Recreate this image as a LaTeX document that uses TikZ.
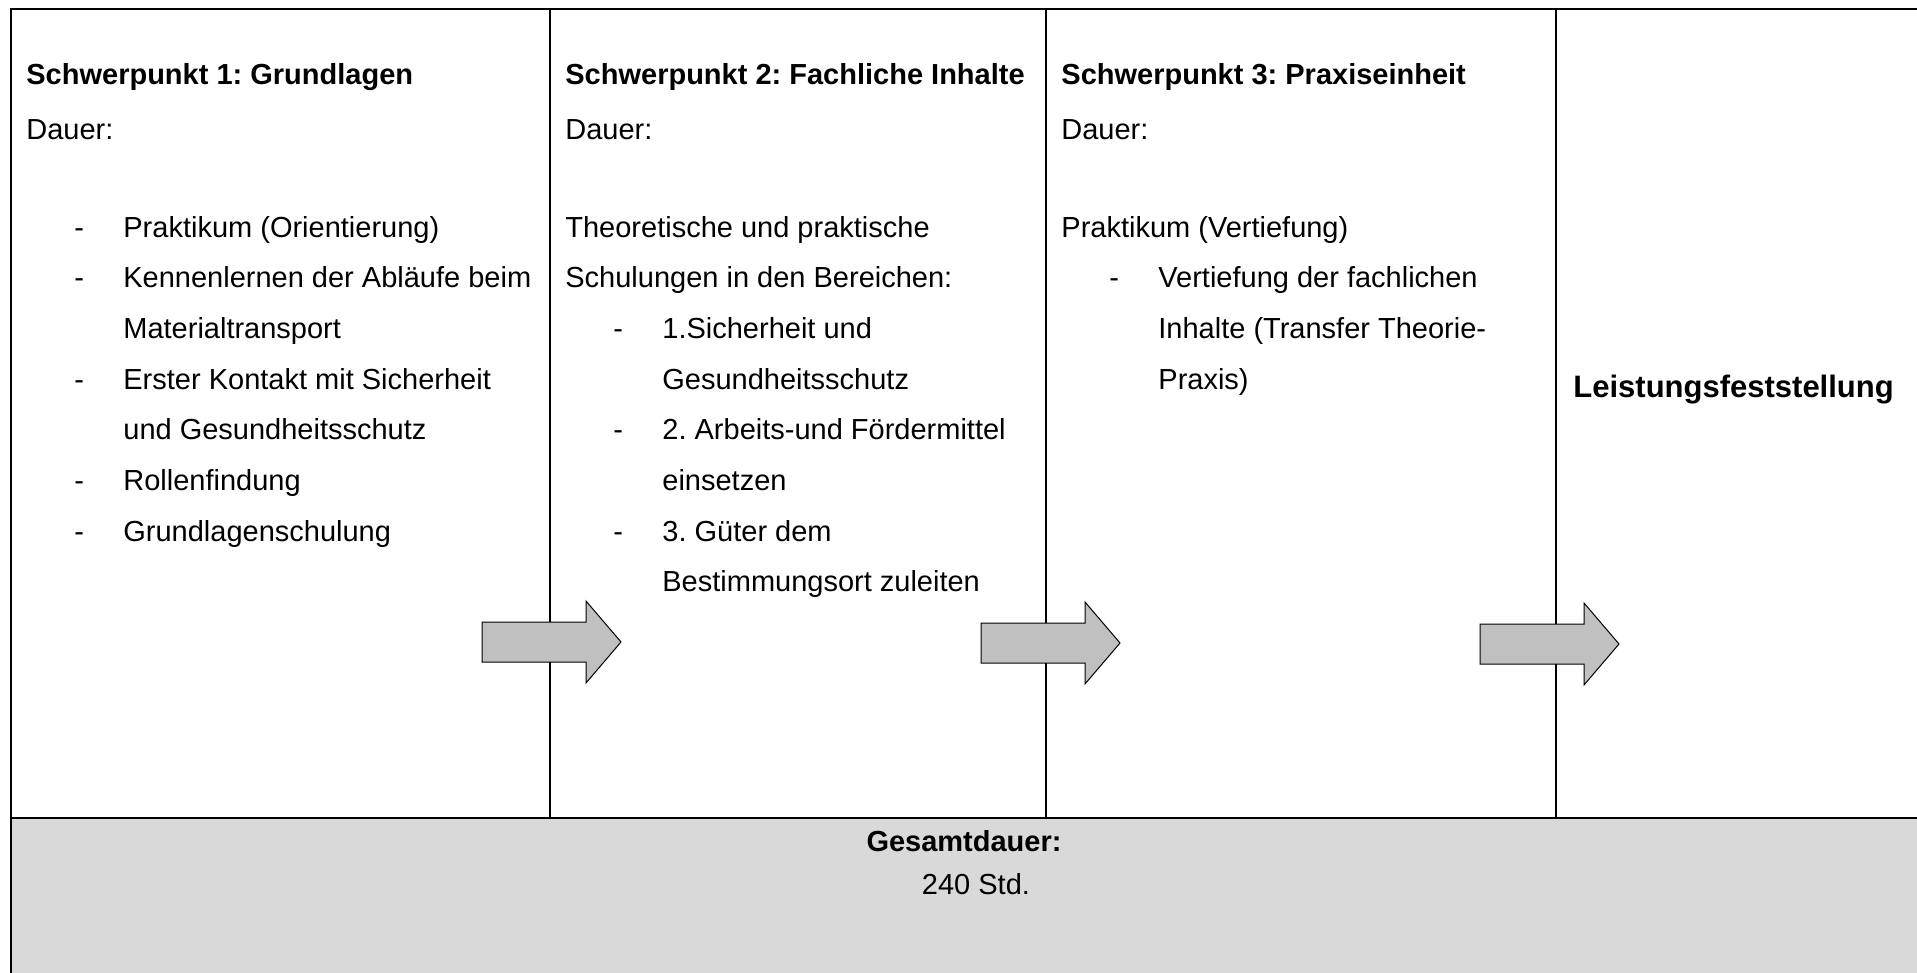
\documentclass[tikz,border=0pt]{standalone}
\usepackage{fontspec}
\usepackage{xcolor}
\usepackage{tikz}
\setmainfont{Liberation Sans}
\frenchspacing
\definecolor{arrowgray}{HTML}{C0C0C0}
\definecolor{sumgray}{HTML}{D9D9D9}
\newcommand{\dashitem}[1]{\hspace*{24pt}\makebox[24.5pt][l]{-}#1}
\newcommand{\hangline}[1]{\hspace*{48.5pt}#1}

\begin{document}
\begin{tikzpicture}[x=0.5pt, y=-0.5pt,
    celltext/.style={anchor=base west, inner sep=0pt, font=\fontsize{14.5}{25.35}\selectfont},
    rule/.style={line width=0.8pt},
    frame/.style={line width=1pt},
    blockarrow/.style={draw, fill=arrowgray, line width=0.5pt, line join=miter}]
\useasboundingbox (0,0) rectangle (1917,973);
\coordinate (topleft) at (11,9);
\coordinate (topright) at (1917,9);
\coordinate (midleft) at (11,818);
\coordinate (midright) at (1917,818);
\coordinate (botleft) at (11,973);
\coordinate (botright) at (1917,973);
% bottom row
\fill[sumgray] (midleft) rectangle (botright);
\draw[frame] (topright) -- (topleft) -- (botleft);
\draw[frame] (midleft) -- (midright);
\foreach \x in {550,1046,1556}
    \draw[rule] (\x,9) -- (\x,818);
% arrows between the columns
\foreach \s/\c in {482/642, 981/643, 1480/644}
    \draw[blockarrow] (\s,\c-20) -- ++(104,0) -- ++(0,-21) -- (\s+139,\c) -- (\s+104,\c+41) -- ++(0,-21) -- (\s,\c+20) -- cycle;
% columns
\node[celltext] (grundlagen) at (26,85) {\parbox[t]{300pt}{\textbf{Schwerpunkt 1: Grundlagen}\\[2pt]Dauer:\\~\\[-2pt]
    \dashitem{Praktikum (Orientierung)}\\
    \dashitem{Kennenlernen der Abläufe beim}\\
    \hangline{Materialtransport}\\
    \dashitem{Erster Kontakt mit Sicherheit}\\
    \hangline{und Gesundheitsschutz}\\
    \dashitem{Rollenfindung}\\
    \dashitem{Grundlagenschulung}}};
\node[celltext] (inhalte) at (565,85) {\parbox[t]{300pt}{\textbf{Schwerpunkt 2: Fachliche Inhalte}\\[2pt]Dauer:\\~\\[-2pt]
    Theoretische und praktische\\
    Schulungen in den Bereichen:\\
    \dashitem{1.Sicherheit und}\\
    \hangline{Gesundheitsschutz}\\
    \dashitem{2. Arbeits-und Fördermittel}\\
    \hangline{einsetzen}\\
    \dashitem{3. Güter dem}\\
    \hangline{Bestimmungsort zuleiten}}};
\node[celltext] (praxis) at (1061,85) {\parbox[t]{300pt}{\textbf{Schwerpunkt 3: Praxiseinheit}\\[2pt]Dauer:\\~\\[-2pt]
    Praktikum (Vertiefung)\\
    \dashitem{Vertiefung der fachlichen}\\
    \hangline{Inhalte (Transfer Theorie-}\\
    \hangline{Praxis)}}};
\node[celltext, font=\fontsize{15.5}{27}\selectfont\bfseries] (leistung) at (1573,397) {Leistungsfeststellung};
% total
\node[celltext, anchor=base, font=\fontsize{14.5}{25.35}\selectfont\bfseries] (gesamt) at (964,851) {Gesamtdauer:};
\node[celltext, anchor=base] (stunden) at (976,894) {240 Std.};
\end{tikzpicture}
\end{document}
